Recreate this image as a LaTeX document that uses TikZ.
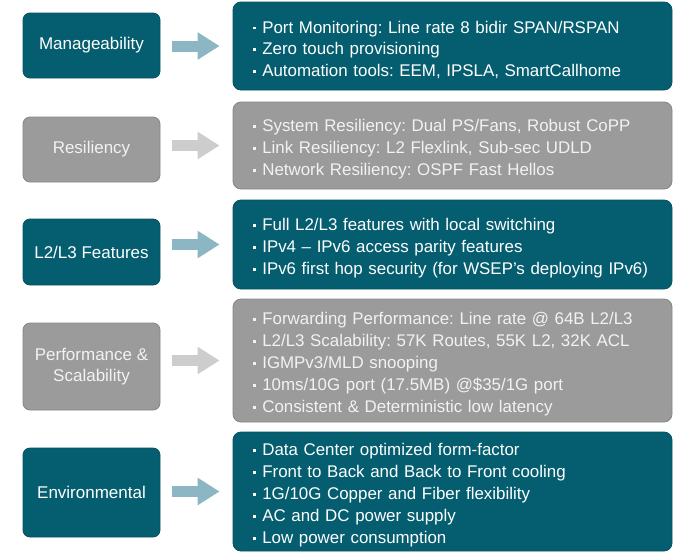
\documentclass[tikz,border=0pt]{standalone}
\usepackage{fontspec}
\setmainfont{Liberation Sans}
\usetikzlibrary{arrows.meta}
\frenchspacing
\definecolor{teal1}{HTML}{055E70}
\definecolor{teal2}{HTML}{04525F}
\definecolor{grayfill}{HTML}{9B9B9B}
\definecolor{grayline}{HTML}{858585}
\definecolor{graytext}{HTML}{F2F2F2}
\definecolor{tealarrow}{HTML}{8DB6C4}
\definecolor{grayarrow}{HTML}{CDCDCD}
\newcommand\bitem{\rule[0.22em]{2.8pt}{2.8pt}\hspace{6.5pt}}
\newcommand\bfirst{\rule{0pt}{20pt}\bitem}
\tikzset{
  leftbox/.style={rounded corners=7pt, minimum width=137pt, align=center, line width=0.8pt,
    font=\fontsize{17}{20.5}\selectfont, inner sep=0pt},
  rightbox/.style={rounded corners=8pt, minimum width=439pt, text width=399pt, inner xsep=20pt,
    inner ysep=0pt, align=left, line width=0.8pt, font=\fontsize{16.9}{21.9}\selectfont},
  tealbox/.style={fill=teal1, draw=teal2, text=white},
  graybox/.style={fill=grayfill, draw=grayline, text=graytext},
  fatarrow/.style={line width=11pt, -{Triangle[length=22pt,width=26pt]}},
}
\begin{document}
\begin{tikzpicture}[x=1pt,y=-1pt]
\useasboundingbox (0,0) rectangle (680,552);
% left boxes
\node[leftbox,tealbox,minimum height=65pt] (l1) at (91.5,45.5) {Manageability};
\node[leftbox,graybox,minimum height=65pt] (l2) at (91.5,149.5) {Resiliency};
\node[leftbox,tealbox,minimum height=66pt] (l3) at (91.5,252) {L2/L3 Features};
\node[leftbox,graybox,minimum height=87pt] (l4) at (91.5,366.5) {Performance \&\\Scalability};
\node[leftbox,tealbox,minimum height=89pt] (l5) at (91.5,492.5) {Environmental};
% right boxes
\node[rightbox,tealbox,minimum height=88pt] (r1) at (452.5,46) {%
\bfirst Port Monitoring: Line rate 8 bidir SPAN/RSPAN\\
\bitem Zero touch provisioning\\
\bitem Automation tools: EEM, IPSLA, SmartCallhome};
\node[rightbox,graybox,minimum height=87pt] (r2) at (452.5,145.5) {%
\bfirst System Resiliency: Dual PS/Fans, Robust CoPP\\
\bitem Link Resiliency: L2 Flexlink, Sub-sec UDLD\\
\bitem Network Resiliency: OSPF Fast Hellos};
\node[rightbox,tealbox,minimum height=89pt] (r3) at (452.5,244.5) {%
\bfirst Full L2/L3 features with local switching\\
\bitem IPv4 – IPv6 access parity features\\
\bitem IPv6 first hop security (for WSEP’s deploying IPv6)};
\node[rightbox,graybox,minimum height=123pt] (r4) at (452.5,360.5) {%
\bfirst Forwarding Performance: Line rate @ 64B L2/L3\\
\bitem L2/L3 Scalability: 57K Routes, 55K L2, 32K ACL\\
\bitem IGMPv3/MLD snooping\\
\bitem 10ms/10G port (17.5MB) @\$35/1G port\\
\bitem Consistent \& Deterministic low latency};
\node[rightbox,tealbox,minimum height=119pt] (r5) at (452.5,491.5) {%
\bfirst Data Center optimized form-factor\\
\bitem Front to Back and Back to Front cooling\\
\bitem 1G/10G Copper and Fiber flexibility\\
\bitem AC and DC power supply\\
\bitem Low power consumption};
% arrows
\draw[fatarrow,tealarrow] ([xshift=12pt]l1.east |- r1.west) -- ([xshift=-13pt]r1.west);
\draw[fatarrow,grayarrow] ([xshift=12pt]l2.east |- r2.west) -- ([xshift=-13pt]r2.west);
\draw[fatarrow,tealarrow] ([xshift=12pt]l3.east |- r3.west) -- ([xshift=-13pt]r3.west);
\draw[fatarrow,grayarrow] ([xshift=12pt]l4.east |- r4.west) -- ([xshift=-13pt]r4.west);
\draw[fatarrow,tealarrow] ([xshift=12pt]l5.east |- r5.west) -- ([xshift=-13pt]r5.west);
\end{tikzpicture}
\end{document}
